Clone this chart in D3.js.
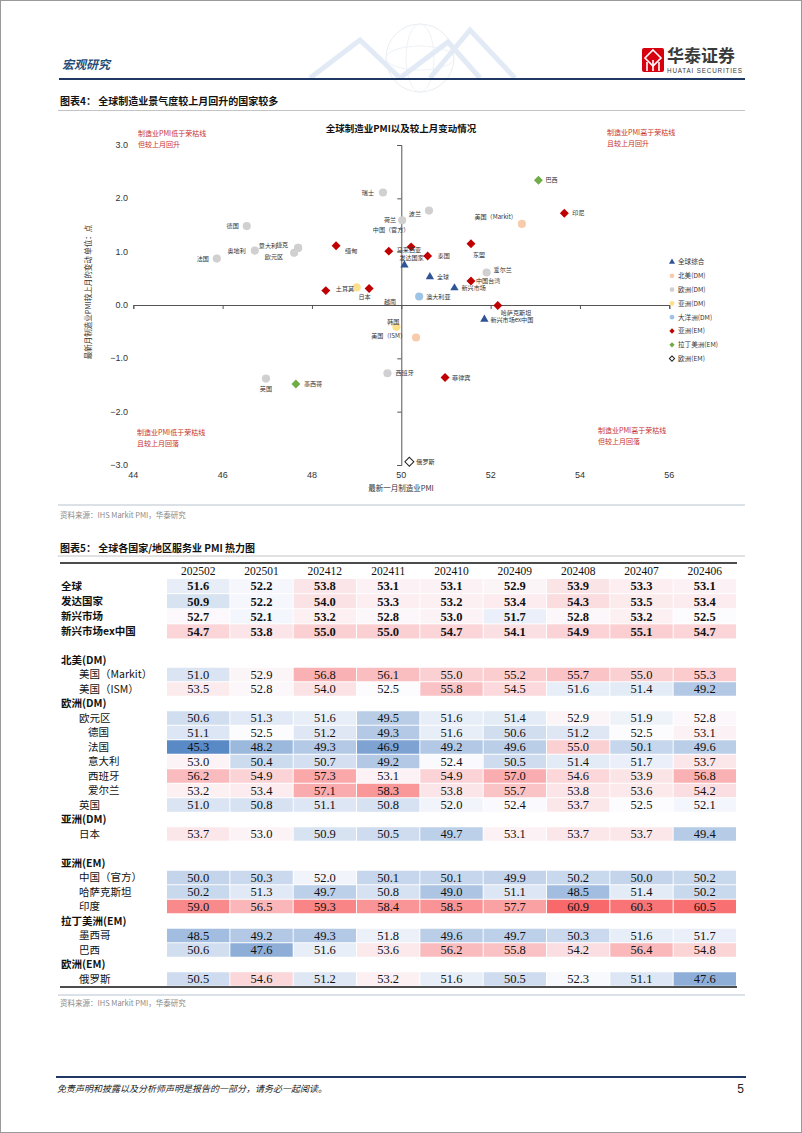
<!DOCTYPE html>
<html><head><meta charset="utf-8">
<script src="https://cdn.jsdelivr.net/npm/d3@7"></script>
<style>
html,body{margin:0;padding:0;background:#fff;}
svg{display:block;}
</style></head>
<body>
<svg id="page" width="802" height="1133"></svg>
<script>
// ---------------- DATA ----------------
const scatterNames = ["全球","发达国家","新兴市场","新兴市场ex中国","美国（Markit）","美国（ISM）","德国","法国","奥地利","意大利","欧元区","捷克","瑞士","荷兰","波兰","爱尔兰","西班牙","英国","日本","韩国","澳大利亚","中国（官方）","马来西亚","泰国","东盟","中国台湾","缅甸","土耳其","越南","菲律宾","哈萨克斯坦","印尼","巴西","墨西哥","俄罗斯"];
const scatterPMI = [50.64,50.07,51.19,51.86,52.70,50.33,46.54,45.87,46.72,47.69,47.60,47.69,49.59,50.02,50.62,51.91,49.69,46.97,49.00,49.89,50.40,50.22,49.72,50.59,51.56,51.56,48.54,48.31,49.28,50.98,52.16,53.65,53.07,47.64,50.18];
const scatterChange = [0.53,0.75,0.32,-0.27,1.52,-0.61,1.48,0.87,1.02,1.07,0.98,1.07,2.11,1.59,1.77,0.61,-1.28,-1.38,0.33,-0.41,0.16,1.09,1.01,0.92,1.15,0.45,1.11,0.27,0.31,-1.36,-0.01,1.72,2.34,-1.48,-2.94];
const scatterGroup = ["全球综合","全球综合","全球综合","全球综合","北美(DM)","北美(DM)","欧洲(DM)","欧洲(DM)","欧洲(DM)","欧洲(DM)","欧洲(DM)","欧洲(DM)","欧洲(DM)","欧洲(DM)","欧洲(DM)","欧洲(DM)","欧洲(DM)","欧洲(DM)","亚洲(DM)","亚洲(DM)","大洋洲(DM)","亚洲(EM)","亚洲(EM)","亚洲(EM)","亚洲(EM)","亚洲(EM)","亚洲(EM)","亚洲(EM)","亚洲(EM)","亚洲(EM)","亚洲(EM)","亚洲(EM)","拉丁美洲(EM)","拉丁美洲(EM)","欧洲(EM)"];
const legendGroups = ["全球综合","北美(DM)","欧洲(DM)","亚洲(DM)","大洋洲(DM)","亚洲(EM)","拉丁美洲(EM)","欧洲(EM)"];
const xTickValues = [44,46,48,50,52,54,56];
const yTickValues = [3,2,1,0,-1,-2,-3];

const months = ["202502","202501","202412","202411","202410","202409","202408","202407","202406"];
const tableLabels = ["全球","发达国家","新兴市场","新兴市场ex中国","","北美(DM)","美国（Markit）","美国（ISM）","欧洲(DM)","欧元区","德国","法国","意大利","西班牙","爱尔兰","英国","亚洲(DM)","日本","","亚洲(EM)","中国（官方）","哈萨克斯坦","印度","拉丁美洲(EM)","墨西哥","巴西","欧洲(EM)","俄罗斯"];
const tableKinds = ["main","main","main","main","blank","group","item","item","group","item","sub","sub","sub","sub","sub","item","group","item","blank","group","item","item","item","group","item","item","group","item"];
const tableValues = [
 [51.6,52.2,53.8,53.1,53.1,52.9,53.9,53.3,53.1],
 [50.9,52.2,54.0,53.3,53.2,53.4,54.3,53.5,53.4],
 [52.7,52.1,53.2,52.8,53.0,51.7,52.8,53.2,52.5],
 [54.7,53.8,55.0,55.0,54.7,54.1,54.9,55.1,54.7],
 null,
 null,
 [51.0,52.9,56.8,56.1,55.0,55.2,55.7,55.0,55.3],
 [53.5,52.8,54.0,52.5,55.8,54.5,51.6,51.4,49.2],
 null,
 [50.6,51.3,51.6,49.5,51.6,51.4,52.9,51.9,52.8],
 [51.1,52.5,51.2,49.3,51.6,50.6,51.2,52.5,53.1],
 [45.3,48.2,49.3,46.9,49.2,49.6,55.0,50.1,49.6],
 [53.0,50.4,50.7,49.2,52.4,50.5,51.4,51.7,53.7],
 [56.2,54.9,57.3,53.1,54.9,57.0,54.6,53.9,56.8],
 [53.2,53.4,57.1,58.3,53.8,55.7,53.8,53.6,54.2],
 [51.0,50.8,51.1,50.8,52.0,52.4,53.7,52.5,52.1],
 null,
 [53.7,53.0,50.9,50.5,49.7,53.1,53.7,53.7,49.4],
 null,
 null,
 [50.0,50.3,52.0,50.1,50.1,49.9,50.2,50.0,50.2],
 [50.2,51.3,49.7,50.8,49.0,51.1,48.5,51.4,50.2],
 [59.0,56.5,59.3,58.4,58.5,57.7,60.9,60.3,60.5],
 null,
 [48.5,49.2,49.3,51.8,49.6,49.7,50.3,51.6,51.7],
 [50.6,47.6,51.6,53.6,56.2,55.8,54.2,56.4,54.8],
 null,
 [50.5,54.6,51.2,53.2,51.6,50.5,52.3,51.1,47.6]
];

// ---------------- LAYOUT / STYLE ----------------
const labelPlacement = [
 [7,0,"start"],[-5,-7,"start"],[7,0,"start"],[6,0,"start"],[-5,-7,"end"],[-10,-2,"end"],
 [-8,0,"end"],[-8,0,"end"],[-9,0,"end"],[-21,-2,"end"],[-11,4,"end"],[-10,-3,"end"],
 [-9,0,"end"],[-6,0,"end"],[-8,3,"end"],[7,-2.5,"start"],[8,0,"start"],[0,10,"middle"],
 [8,9,"middle"],[-3,-5,"middle"],[7,0,"start"],[-20,-17,"middle"],[8,-1.5,"start"],[10,0,"start"],
 [2,11,"start"],[5,0,"start"],[9,5,"start"],[10,-2,"start"],[21,13,"middle"],[7,0,"start"],
 [3,7,"start"],[8,0,"start"],[7,0,"start"],[8,0,"start"],[7,0,"start"]
];
const groupStyle = {
 "全球综合":   {shape:"triangle", fill:"#2f5597", stroke:"none"},
 "北美(DM)":   {shape:"circle", fill:"#f8cbad", stroke:"none"},
 "欧洲(DM)":   {shape:"circle", fill:"#d0d0d0", stroke:"none"},
 "亚洲(DM)":   {shape:"circle", fill:"#ffe08a", stroke:"none"},
 "大洋洲(DM)": {shape:"circle", fill:"#9dc3e6", stroke:"none"},
 "亚洲(EM)":   {shape:"diamond", fill:"#c00000", stroke:"none"},
 "拉丁美洲(EM)": {shape:"diamond", fill:"#70ad47", stroke:"none"},
 "欧洲(EM)":   {shape:"diamond", fill:"#ffffff", stroke:"#222"}
};
const CJK = "'Noto Sans CJK SC','Noto Sans',sans-serif";
const SANS = "'Liberation Sans',Arial,sans-serif";
const SERIF = "'Liberation Serif','Times New Roman',serif";

const svg = d3.select("#page");
svg.append("rect").attr("x",0.5).attr("y",0.5).attr("width",801).attr("height",1132)
  .attr("fill","#fff").attr("stroke","#9a9a9a");

// ---------------- HEADER ----------------
const deco = svg.append("g").attr("opacity",0.22);
deco.append("circle").attr("cx",420).attr("cy",58).attr("r",34).attr("fill","none").attr("stroke","#9fb3c8").attr("stroke-width",1);
deco.append("ellipse").attr("cx",420).attr("cy",58).attr("rx",34).attr("ry",12).attr("fill","none").attr("stroke","#b8c6d6");
deco.append("ellipse").attr("cx",420).attr("cy",58).attr("rx",14).attr("ry",34).attr("fill","none").attr("stroke","#b8c6d6");
[[310,78,360,40,400,78],[430,78,470,30,515,78],[400,78,448,42,480,78]].forEach(p=>{
  deco.append("polyline").attr("points",`${p[0]},${p[1]} ${p[2]},${p[3]} ${p[4]},${p[5]}`)
   .attr("fill","none").attr("stroke","#7fa7d6").attr("stroke-width",5);
});
svg.append("text").attr("x",62).attr("y",65).attr("dy","0.35em").text("宏观研究")
  .attr("font-family",CJK).attr("font-size",12).attr("font-weight","bold").attr("fill","#1f4e79").attr("font-style","italic");
svg.append("line").attr("x1",59).attr("x2",745).attr("y1",79).attr("y2",79).attr("stroke","#1f3864").attr("stroke-width",2);
// logo
const logo = svg.append("g");
logo.append("rect").attr("x",642).attr("y",48).attr("width",22).attr("height",24).attr("rx",2).attr("fill","#d7000f");
logo.append("path").attr("d","M653,50 L661,58 L653,66 L645,58 Z").attr("fill","none").attr("stroke","#fff").attr("stroke-width",1.6);
logo.append("path").attr("d","M647,71 L647,62 M653,71 L653,60 M659,71 L659,62").attr("stroke","#fff").attr("stroke-width",1.6);
logo.append("text").attr("x",667).attr("y",56).attr("dy","0.35em").text("华泰证券")
  .attr("font-family",CJK).attr("font-size",17).attr("font-weight","bold").attr("fill","#3a3a3a");
logo.append("text").attr("x",667).attr("y",71).attr("dy","0.35em").text("HUATAI SECURITIES")
  .attr("font-family",SANS).attr("font-size",6.3).attr("fill","#3a3a3a").attr("textLength",75);

// ---------------- FIGURE 4 ----------------
svg.append("text").attr("x",60).attr("y",101).attr("dy","0.35em").text("图表4：  全球制造业景气度较上月回升的国家较多")
  .attr("font-family",CJK).attr("font-size",10).attr("font-weight","bold").attr("fill","#111");
svg.append("line").attr("x1",58).attr("x2",745).attr("y1",110.5).attr("y2",110.5).attr("stroke","#c4c4c4");

const x = d3.scaleLinear().domain([44,56]).range([133.3,669.3]);
const y = d3.scaleLinear().domain([-3,3]).range([465,145]);
const ch = svg.append("g");

ch.append("text").attr("x",401).attr("y",129).attr("dy","0.35em").attr("text-anchor","middle")
  .text("全球制造业PMI以及较上月变动情况").attr("font-family",CJK).attr("font-size",9.5).attr("font-weight","bold").attr("fill","#111");

// axes lines crossing at (50,0)
const xAxis = d3.axisBottom(x).tickValues(xTickValues).tickSize(4).tickFormat("");
ch.append("g").attr("transform",`translate(0,${y(0)})`).call(xAxis)
  .call(g=>{g.select(".domain").attr("stroke","#555"); g.selectAll(".tick line").attr("stroke","#555");});
const yAxis = d3.axisLeft(y).tickValues(yTickValues).tickSize(4).tickFormat("");
ch.append("g").attr("transform",`translate(${x(50)},0)`).call(yAxis)
  .call(g=>{g.select(".domain").attr("stroke","#555"); g.selectAll(".tick line").attr("stroke","#555");});
// tick labels at plot edges
ch.selectAll(".ylab").data(yTickValues).join("text").attr("class","ylab")
  .attr("x",128).attr("y",d=>y(d)).attr("dy","0.35em").attr("text-anchor","end")
  .text(d=>d3.format(".1f")(d)).attr("font-family",SANS).attr("font-size",9).attr("fill","#333");
ch.selectAll(".xlab").data(xTickValues).join("text").attr("class","xlab")
  .attr("x",d=>x(d)).attr("y",475).attr("dy","0.35em").attr("text-anchor","middle")
  .text(d=>d).attr("font-family",SANS).attr("font-size",9).attr("fill","#333");
ch.append("text").attr("x",401).attr("y",488).attr("dy","0.35em").attr("text-anchor","middle")
  .text("最新一月制造业PMI").attr("font-family",CJK).attr("font-size",7.5).attr("fill","#333");
ch.append("text").attr("transform","translate(88,292) rotate(-90)").attr("dy","0.35em").attr("text-anchor","middle")
  .text("最新月制造业PMI较上月的变动   单位：点").attr("font-family",CJK).attr("font-size",7.5).attr("fill","#333");

// quadrant notes
const notes = [
 [138,133.5,"制造业PMI低于荣枯线","但较上月回升"],
 [607,132.5,"制造业PMI高于荣枯线","且较上月回升"],
 [137,432.5,"制造业PMI低于荣枯线","且较上月回落"],
 [598,431,"制造业PMI高于荣枯线","但较上月回落"]
];
notes.forEach(n=>{
  [n[2],n[3]].forEach((t,i)=>ch.append("text").attr("x",n[0]).attr("y",n[1]+i*11).attr("dy","0.35em")
    .text(t).attr("font-family",CJK).attr("font-size",7).attr("fill","#c8302c"));
});

function symbolPath(shape, big){
  if(shape==="triangle") return d3.symbol().type(d3.symbolTriangle).size(big?30:16)();
  if(shape==="circle") return d3.symbol().type(d3.symbolCircle).size(big?52:18)();
  return d3.symbol().type(d3.symbolSquare).size(big?40:14)();
}
const pts = scatterNames.map((n,i)=>({name:n,px:scatterPMI[i],chg:scatterChange[i],g:scatterGroup[i],lp:labelPlacement[i]}));
ch.selectAll(".pt").data(pts).join("path").attr("class","pt")
  .attr("d",d=>symbolPath(groupStyle[d.g].shape,true))
  .attr("transform",d=>`translate(${x(d.px)},${y(d.chg)})`+(groupStyle[d.g].shape==="diamond"?" rotate(45)":""))
  .attr("fill",d=>groupStyle[d.g].fill).attr("stroke",d=>groupStyle[d.g].stroke).attr("stroke-width",1);
ch.selectAll(".plab").data(pts).join("text").attr("class","plab")
  .attr("x",d=>x(d.px)+d.lp[0]).attr("y",d=>y(d.chg)+d.lp[1]).attr("dy","0.35em")
  .attr("text-anchor",d=>d.lp[2]).text(d=>d.name)
  .attr("font-family",CJK).attr("font-size",6.1).attr("fill","#333");

// legend
const lg = ch.append("g").attr("transform","translate(672,262)");
legendGroups.forEach((g,i)=>{
  const s = groupStyle[g];
  lg.append("path").attr("d",symbolPath(s.shape,false))
    .attr("transform",`translate(0,${i*13.8})`+(s.shape==="diamond"?" rotate(45)":""))
    .attr("fill",s.fill).attr("stroke",s.stroke).attr("stroke-width",1);
  lg.append("text").attr("x",6).attr("y",i*13.8).attr("dy","0.35em").text(g)
    .attr("font-family",CJK).attr("font-size",6.6).attr("fill","#333");
});

// source 1
svg.append("line").attr("x1",58).attr("x2",745).attr("y1",505).attr("y2",505).attr("stroke","#b9c2d0");
svg.append("text").attr("x",60).attr("y",515).attr("dy","0.35em").text("资料来源：IHS Markit PMI，华泰研究")
  .attr("font-family",CJK).attr("font-size",7.5).attr("fill","#8a8a8a");

// ---------------- FIGURE 5 (heat map table) ----------------
svg.append("text").attr("x",60).attr("y",548).attr("dy","0.35em").text("图表5：  全球各国家/地区服务业 PMI 热力图")
  .attr("font-family",CJK).attr("font-size",10).attr("font-weight","bold").attr("fill","#111");
svg.append("line").attr("x1",58).attr("x2",745).attr("y1",556).attr("y2",556).attr("stroke","#c4c4c4");

const col = d3.scaleBand().domain(months).range([167,736]).paddingInner(0.015);
// row centres
const rowY = [];
let cy = 571;
const headerY = cy;
tableLabels.forEach((l,i)=>{
  cy += (i<=4 ? 15.1 : 14.5);
  if(i===5) cy = 660;
  rowY.push(cy);
});
const allVals = tableValues.filter(v=>v).flat();
const color = d3.scaleLinear()
  .domain([d3.min(allVals), d3.median(allVals), d3.max(allVals)])
  .range(["#5A8AC6","#FCFCFF","#F8696B"]);

const tb = svg.append("g");
tb.append("line").attr("x1",60).attr("x2",737).attr("y1",563).attr("y2",563).attr("stroke","#111").attr("stroke-width",1.5);
tb.selectAll(".hdr").data(months).join("text").attr("class","hdr")
  .attr("x",d=>col(d)+col.bandwidth()/2).attr("y",headerY).attr("dy","0.35em").attr("text-anchor","middle")
  .text(d=>d).attr("font-family",SERIF).attr("font-size",11.5).attr("fill","#111");

tableLabels.forEach((lab,i)=>{
  const kind = tableKinds[i];
  if(kind==="blank") return;
  const ry = rowY[i];
  const lx = kind==="main"||kind==="group" ? 61 : (kind==="sub" ? 88 : 79);
  tb.append("text").attr("x",lx).attr("y",ry).attr("dy","0.35em").text(lab)
    .attr("font-family",CJK).attr("font-size",10.5)
    .attr("font-weight",kind==="main"||kind==="group"?"bold":"normal").attr("fill","#111");
  const vals = tableValues[i];
  if(!vals) return;
  const h = (i<=4?15.1:14.5);
  tb.selectAll(null).data(vals).join("rect")
    .attr("x",(d,j)=>col(months[j])).attr("y",ry-h/2+0.5).attr("width",col.bandwidth()).attr("height",h-1)
    .attr("fill",d=>color(d));
  tb.selectAll(null).data(vals).join("text")
    .attr("x",(d,j)=>col(months[j])+col.bandwidth()/2).attr("y",ry).attr("dy","0.35em").attr("text-anchor","middle")
    .text(d=>d3.format(".1f")(d)).attr("font-family",SERIF).attr("font-size",12.5)
    .attr("font-weight",kind==="main"?"bold":"normal").attr("fill","#111");
});
tb.append("line").attr("x1",60).attr("x2",737).attr("y1",987).attr("y2",987).attr("stroke","#111").attr("stroke-width",1.5);

svg.append("line").attr("x1",58).attr("x2",745).attr("y1",995).attr("y2",995).attr("stroke","#b9c2d0");
svg.append("text").attr("x",60).attr("y",1003).attr("dy","0.35em").text("资料来源：IHS Markit PMI，华泰研究")
  .attr("font-family",CJK).attr("font-size",7.5).attr("fill","#8a8a8a");

// ---------------- FOOTER ----------------
svg.append("line").attr("x1",56).attr("x2",746).attr("y1",1077).attr("y2",1077).attr("stroke","#1f3864").attr("stroke-width",2);
svg.append("text").attr("x",57).attr("y",1089).attr("dy","0.35em").text("免责声明和披露以及分析师声明是报告的一部分，请务必一起阅读。")
  .attr("font-family",CJK).attr("font-size",9).attr("font-style","italic").attr("fill","#222");
svg.append("text").attr("x",744).attr("y",1089).attr("dy","0.35em").attr("text-anchor","end").text("5")
  .attr("font-family",SANS).attr("font-size",12).attr("fill","#222");
</script>
</body></html>
